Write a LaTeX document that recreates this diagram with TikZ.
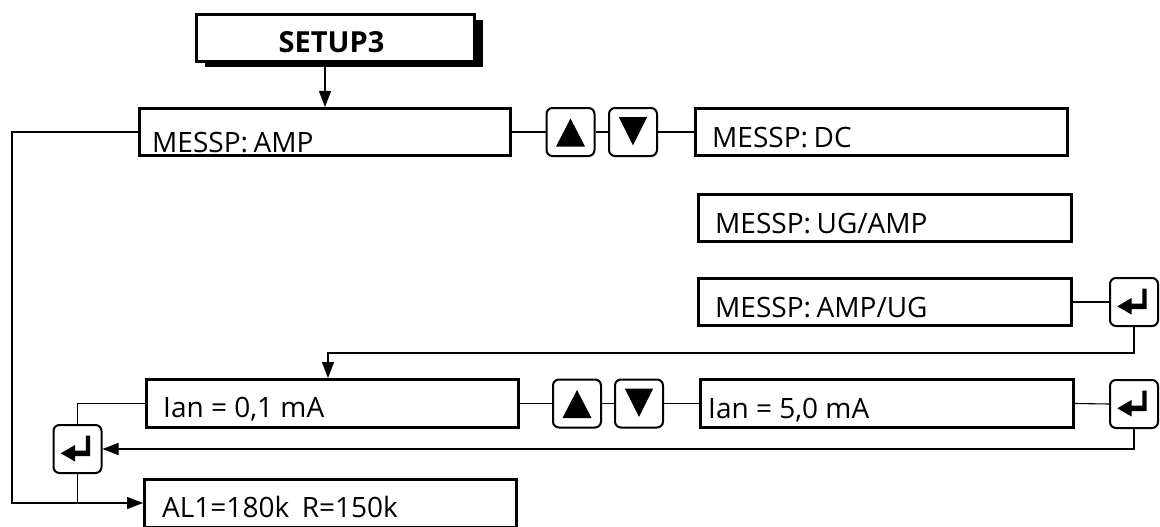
\documentclass[tikz,border=0pt]{standalone}
\usepackage{fontspec}
\setmainfont{Open Sans}
\usetikzlibrary{arrows.meta,calc}

\tikzset{
  box/.style={draw, line width=3pt, fill=white, inner sep=0pt, minimum height=47pt},
  shadowbox/.style={fill=black, inner sep=0pt, minimum height=47pt},
  key/.style={draw, line width=2pt, rounded corners=6pt, fill=white, inner sep=0pt,
    minimum width=48pt, minimum height=48pt},
  upkey/.style={key, path picture={
    \fill[black, sharp corners, shift={(path picture bounding box.center)}]
      (0,-13.5) -- (14.5,14.5) -- (-14.5,14.5) -- cycle;}},
  downkey/.style={key, path picture={
    \fill[black, sharp corners, shift={(path picture bounding box.center)}]
      (0,13.3) -- (14.2,-15) -- (-14.2,-15) -- cycle;}},
  enterkey/.style={key, path picture={
    \fill[black, sharp corners, shift={(path picture bounding box.center)}]
      (8.3,-13.5) -- (12.7,-13.5) -- (12.7,7.2) -- (-2.5,7.2) -- (-2.5,12.5)
      -- (-16.7,4.3) -- (-2.5,-4) -- (-2.5,1.5) -- (8.3,1.5) -- cycle;}},
  lbl/.style={anchor=base west, inner sep=0pt, font=\fontsize{28}{32}\selectfont},
  title/.style={anchor=base, inner sep=0pt, font=\fontsize{29}{33}\selectfont\bfseries},
  wire/.style={line width=1.1pt},
  flow/.style={wire, -{Triangle[length=16pt,width=12pt]}},
}

\begin{document}
\begin{tikzpicture}[x=1pt,y=-1pt]
\useasboundingbox (0,0) rectangle (1160,527);

% title box with its drop shadow
\node[shadowbox, minimum width=278pt] (setupshadow) at (343.5,44) {};
\node[box, minimum width=278pt] (setup) at (335.5,38) {};
\node[title] (setupt) at (331.5,53) {SETUP3};

% first row: measuring point selection
\node[box, minimum width=371pt] (amp) at (325,132) {};
\node[lbl] (ampt) at (152,152) {MESSP:\hspace{0.2em}AMP};
\node[upkey] (up1) at (570.5,132) {};
\node[downkey] (dn1) at (633,132) {};
\node[box, minimum width=372pt] (dc) at (881.5,132) {};
\node[lbl] (dct) at (712,147) {MESSP:\hspace{0.2em}DC};
\node[box, minimum width=373pt] (ugamp) at (885,218) {};
\node[lbl] (ugampt) at (715,233) {MESSP:\hspace{0.2em}UG/AMP};
\node[box, minimum width=373pt] (ampug) at (885,302) {};
\node[lbl] (ampugt) at (715,317) {MESSP:\hspace{0.2em}AMP/UG};
\node[enterkey] (ent1) at (1134,302) {};

% second row: current setting
\node[box, minimum width=372pt, minimum height=48pt] (ian1) at (332.5,403.5) {};
\node[lbl] (ian1t) at (163,417) {Ian = 0,1 mA};
\node[upkey] (up2) at (577,403.5) {};
\node[downkey] (dn2) at (639,403.5) {};
\node[box, minimum width=373pt, minimum height=48pt] (ian5) at (887,403.5) {};
\node[lbl] (ian5t) at (708,418) {Ian = 5,0 mA};
\node[enterkey] (ent2) at (1134,404) {};

% confirmation key and result
\node[enterkey] (ent0) at (77.5,449) {};
\node[box, minimum width=372pt, minimum height=48pt] (al1) at (330.5,503) {};
\node[lbl] (al1t) at (162,517) {AL1=180k\hspace{0.45em}R=150k};

% connectors
\coordinate (leftrail) at (12,0);
\coordinate (drop) at (328,353);

\draw[flow] (amp.north |- setup.south) -- (amp.north);
\draw[wire] (amp.east) -- (up1.west);
\draw[wire] (up1.east) -- (dn1.west);
\draw[wire] (dn1.east) -- (dc.west);
\draw[wire] (ampug.east) -- (ent1.west);
\draw[flow] (ent1.south) |- (drop) -- (drop |- ian1.north);

\draw[wire] (ian1.east) -- (up2.west);
\draw[wire] (up2.east) -- (dn2.west);
\draw[wire] (dn2.east) -- (ian5.west);
\draw[wire] (ian5.east) -- (ent2.west);
\draw[flow] (ent2.south) |- (ent0.east);

\draw[wire] (ian1.west) -| (ent0.north);
\draw[flow] (amp.west) -- (amp.west -| leftrail) |- (al1.west);
\draw[wire] (ent0.south) -- (ent0.south |- al1.west);
\end{tikzpicture}
\end{document}
